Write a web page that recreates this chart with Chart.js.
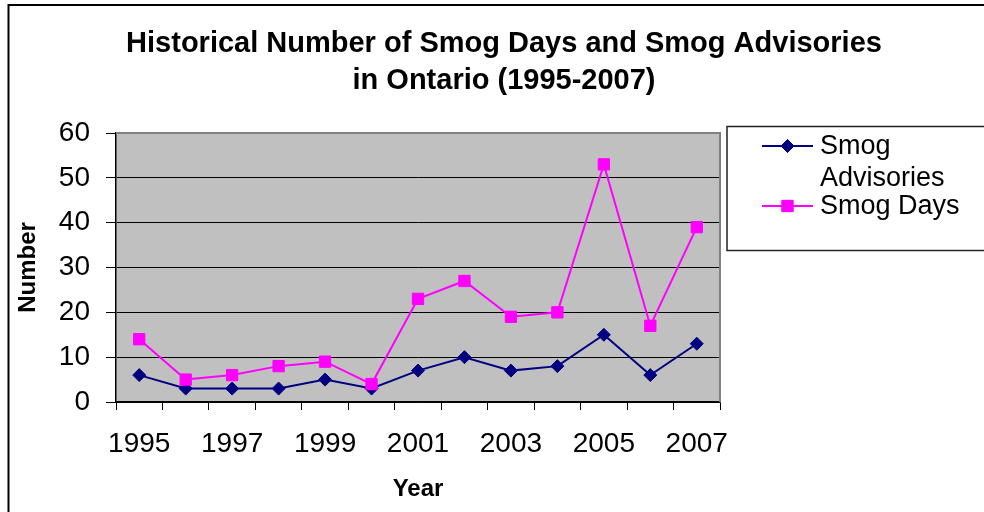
<!DOCTYPE html>
<html>
<head>
<meta charset="utf-8">
<script src="https://cdn.jsdelivr.net/npm/chart.js@4"></script>
<style>
  html, body { margin: 0; padding: 0; background: #fff; }
  #wrap { width: 984px; height: 512px; position: relative; }
</style>
</head>
<body>
<div id="wrap"><canvas id="c" width="984" height="512"></canvas></div>
<script>
// Ontario smog statistics, 1995-2007
const years = ['1995', '1996', '1997', '1998', '1999', '2000', '2001', '2002', '2003', '2004', '2005', '2006', '2007'];
const smogAdvisories = [6, 3, 3, 3, 5, 3, 7, 10, 7, 8, 15, 6, 13];
const smogDays = [14, 5, 6, 8, 9, 4, 23, 27, 19, 20, 53, 17, 39];
const yTicks = [0, 10, 20, 30, 40, 50, 60];
const titleLines = ['Historical Number of Smog Days and Smog Advisories', 'in Ontario (1995-2007)'];
const seriesNames = ['Smog Advisories', 'Smog Days'];
const legendLines = [['Smog', 'Advisories'], ['Smog Days']];
const xTitle = 'Year';
const yTitle = 'Number';

const FONT = "'Liberation Sans', Arial, Helvetica, sans-serif";
Chart.defaults.font.family = FONT;
Chart.defaults.color = '#000';

const NAVY = '#000080';
const MAGENTA = '#FF00FF';

// Page frame, grey plot background and plot edge
const backdrop = {
  id: 'backdrop',
  beforeDraw(chart) {
    const { ctx, chartArea: a } = chart;
    ctx.save();
    ctx.fillStyle = '#fff';
    ctx.fillRect(0, 0, chart.width, chart.height);
    ctx.strokeStyle = '#000';
    ctx.lineWidth = 2;
    ctx.beginPath();
    ctx.moveTo(8.5, chart.height);
    ctx.lineTo(8.5, 5);
    ctx.lineTo(chart.width, 5);
    ctx.stroke();
    ctx.fillStyle = '#C0C0C0';
    ctx.fillRect(a.left, a.top, a.right - a.left, a.bottom - a.top);
    ctx.restore();
  },
  beforeDatasetsDraw(chart) {
    const { ctx, chartArea: a } = chart;
    ctx.save();
    ctx.strokeStyle = '#808080';
    ctx.lineWidth = 2;
    ctx.beginPath();
    ctx.moveTo(a.left, a.top);
    ctx.lineTo(a.right, a.top);
    ctx.lineTo(a.right, a.bottom);
    ctx.stroke();
    ctx.restore();
  }
};

// Two-line heading centred over the page
const heading = {
  id: 'heading',
  afterDraw(chart) {
    const ctx = chart.ctx;
    ctx.save();
    ctx.fillStyle = '#000';
    ctx.font = 'bold 29px ' + FONT;
    ctx.textAlign = 'center';
    ctx.textBaseline = 'middle';
    const ys = [44, 81];
    titleLines.forEach((t, i) => ctx.fillText(t, 504, ys[i]));
    ctx.restore();
  }
};

// Boxed legend to the right of the plot
const sideLegend = {
  id: 'sideLegend',
  afterDraw(chart) {
    const ctx = chart.ctx;
    ctx.save();
    ctx.strokeStyle = '#222';
    ctx.lineWidth = 1.5;
    ctx.strokeRect(727, 126.5, 300, 124);
    const rows = [146, 206];
    const lineGap = 32;
    chart.data.datasets.forEach((ds, i) => {
      const y = rows[i];
      ctx.strokeStyle = ds.borderColor;
      ctx.lineWidth = 2;
      ctx.beginPath();
      ctx.moveTo(762, y);
      ctx.lineTo(813, y);
      ctx.stroke();
      ctx.fillStyle = ds.backgroundColor;
      ctx.strokeStyle = ds.borderColor;
      ctx.lineWidth = 1;
      Chart.helpers.drawPoint(ctx, { pointStyle: ds.pointStyle, radius: ds.pointRadius, rotation: 0, borderWidth: 1 }, 787.5, y);
      ctx.fill();
      ctx.fillStyle = '#000';
      ctx.font = '27px ' + FONT;
      ctx.textAlign = 'left';
      ctx.textBaseline = 'middle';
      legendLines[i].forEach((t, k) => ctx.fillText(t, 820, y + 1 + k * lineGap));
    });
    ctx.restore();
  }
};

new Chart(document.getElementById('c'), {
  type: 'line',
  data: {
    labels: years,
    datasets: [
      {
        label: seriesNames[0],
        data: smogAdvisories,
        borderColor: NAVY,
        backgroundColor: NAVY,
        borderWidth: 2,
        pointStyle: 'rectRot',
        pointRadius: 6.5,
        pointHoverRadius: 6.5,
        pointBorderWidth: 1,
        tension: 0,
        order: 1
      },
      {
        label: seriesNames[1],
        data: smogDays,
        borderColor: MAGENTA,
        backgroundColor: MAGENTA,
        borderWidth: 2,
        pointStyle: 'rect',
        pointRadius: 8,
        pointHoverRadius: 8,
        pointBorderWidth: 1,
        tension: 0,
        order: 0
      }
    ]
  },
  options: {
    responsive: false,
    animation: false,
    events: [],
    layout: { padding: { top: 133, right: 264, left: 0, bottom: 0 } },
    plugins: {
      legend: { display: false },
      title: { display: false },
      tooltip: { enabled: false }
    },
    scales: {
      x: {
        offset: true,
        grid: { offset: true, drawOnChartArea: false, drawTicks: true, tickLength: 8, color: '#000', lineWidth: 1 },
        border: { color: '#000', width: 1.5 },
        ticks: {
          autoSkip: false, maxRotation: 0, minRotation: 0,
          color: '#000', font: { size: 28 }, padding: 17,
          callback(v, i) { return i % 2 === 0 ? this.getLabelForValue(v) : ''; }
        },
        title: { display: true, text: xTitle, color: '#000', font: { size: 24, weight: 'bold' }, padding: { top: 0, bottom: 8 } },
        afterFit(s) { s.height = 110; }
      },
      y: {
        min: yTicks[0],
        max: yTicks[yTicks.length - 1],
        ticks: { stepSize: yTicks[1] - yTicks[0], color: '#000', font: { size: 28 }, padding: 16 },
        grid: {
          color: c => (c.tick && c.tick.value === yTicks[yTicks.length - 1]) ? 'rgba(0,0,0,0)' : '#000',
          tickColor: '#000', tickLength: 10, lineWidth: 1
        },
        border: { color: '#000', width: 1.5 },
        title: { display: true, text: yTitle, color: '#000', font: { size: 24, weight: 'bold' }, padding: { top: 14, bottom: 0 } },
        afterFit(s) { s.width = 116; }
      }
    }
  },
  plugins: [backdrop, heading, sideLegend]
});
</script>
</body>
</html>
